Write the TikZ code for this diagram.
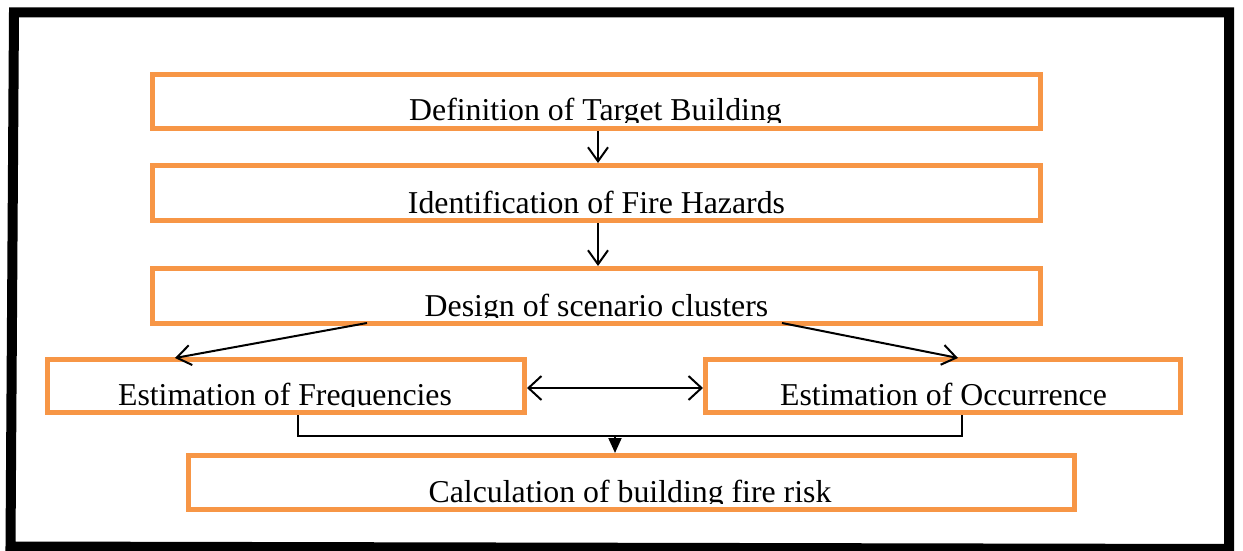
\documentclass[tikz,border=0pt]{standalone}
\usepackage{fontspec}
\setmainfont{Liberation Serif}
\usetikzlibrary{arrows.meta}
\definecolor{boxorange}{HTML}{F79646}
\tikzset{
  box/.style={draw=boxorange, line width=5pt, rectangle, inner sep=0pt, outer sep=2.5pt, minimum height=54pt},
  lbl/.style={inner sep=0pt, outer sep=0pt, anchor=base, font=\fontsize{31.8}{36}\selectfont},
  conn/.style={draw=black, line width=2pt},
  openarr/.style={conn, -{Straight Barb[length=14pt,width=20pt,line width=2pt]}},
  dblarr/.style={conn, {Straight Barb[length=13pt,width=24pt,line width=2pt]}-{Straight Barb[length=13pt,width=24pt,line width=2pt]}},
  fillarr/.style={conn, -{Triangle[length=15pt,width=13pt]}},
}
\begin{document}
\begin{tikzpicture}[x=1pt,y=-1pt]
\useasboundingbox (0,0) rectangle (1243,551);
% outer frame
\draw[line width=10pt, line join=miter] (14,12.5) -- (1229,12.5) -- (1229,549) -- (10.5,546.5) -- cycle;
% boxes
\node[box, minimum width=888pt] (b1) at (596.5,101.5) {};
\node[box, minimum width=888pt, minimum height=55pt] (b2) at (596.5,193) {};
\node[box, minimum width=888pt, minimum height=55pt] (b3) at (596.5,296) {};
\node[box, minimum width=477pt, minimum height=53pt] (b4) at (286,386) {};
\node[box, minimum width=475pt, minimum height=53pt] (b5) at (943,386) {};
\node[box, minimum width=886pt] (b6) at (631.5,482.5) {};
% clipped labels
\begin{scope}
\clip (b1.north west) rectangle ([yshift=9pt]b1.south east);
\node[lbl] (t1) at ([xshift=-1pt,yshift=10pt]b1.south) {Definition of Target Building};
\end{scope}
\begin{scope}
\clip (b2.north west) rectangle ([yshift=9pt]b2.south east);
\node[lbl] (t2) at ([yshift=10pt]b2.south) {Identification of Fire Hazards};
\end{scope}
\begin{scope}
\clip (b3.north west) rectangle ([yshift=9pt]b3.south east);
\node[lbl] (t3) at ([yshift=10pt]b3.south) {Design of scenario clusters};
\end{scope}
\begin{scope}
\clip (b4.north west) rectangle ([yshift=9pt]b4.south east);
\node[lbl] (t4) at ([xshift=-1pt,yshift=10pt]b4.south) {Estimation of Frequencies};
\end{scope}
\begin{scope}
\clip (b5.north west) rectangle ([yshift=9pt]b5.south east);
\node[lbl] (t5) at ([xshift=0.5pt,yshift=10pt]b5.south) {Estimation of Occurrence};
\end{scope}
\begin{scope}
\clip (b6.north west) rectangle ([yshift=9pt]b6.south east);
\node[lbl] (t6) at ([xshift=-1.5pt,yshift=10pt]b6.south) {Calculation of building fire risk};
\end{scope}
% connectors
\draw[openarr] ([xshift=1.5pt]b1.south) -- ([xshift=1.5pt]b2.north);
\draw[openarr] ([xshift=1.5pt]b2.south) -- ([xshift=1.5pt]b3.north);
\draw[openarr] ([xshift=-229.5pt,yshift=3pt]b3.south) -- ([xshift=-111pt,yshift=-1pt]b4.north);
\draw[openarr] ([xshift=185.5pt,yshift=3pt]b3.south) -- ([xshift=15pt,yshift=-1pt]b5.north);
\draw[dblarr] ([yshift=-2pt]b4.east) -- ([yshift=-2pt]b5.west);
\draw[conn] ([xshift=11.5pt]b4.south) -- ++(0,21) -| ([xshift=19pt]b5.south);
\coordinate (j) at (615,436);
\draw[fillarr] (j) -- (j |- b6.north);
\end{tikzpicture}
\end{document}
